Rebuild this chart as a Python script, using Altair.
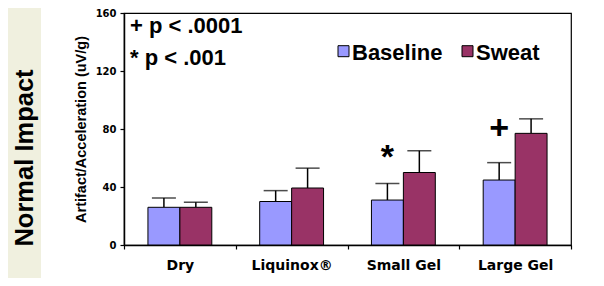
import altair as alt
import pandas as pd

categories = ["Dry", "Liquinox®", "Small Gel", "Large Gel"]
series = ["Baseline", "Sweat"]
baseline_vals = [26, 30, 31, 44.8]
baseline_err_top = [32.5, 37.5, 42.5, 56.8]
sweat_vals = [26, 39.3, 50, 77]
sweat_err_top = [29.5, 53, 65, 87]
y_ticks = [0, 40, 80, 120, 160]
colors = ["#9999FF", "#993366"]

sig_category = ["Small Gel", "Large Gel"]
sig_series = ["Baseline", "Baseline"]
sig_symbol = ["*", "+"]
sig_height = [60, 80]

rows = []
for i, c in enumerate(categories):
    rows.append({"cat": c, "series": series[0], "value": baseline_vals[i], "top": baseline_err_top[i]})
    rows.append({"cat": c, "series": series[1], "value": sweat_vals[i], "top": sweat_err_top[i]})
df = pd.DataFrame(rows)
sig = pd.DataFrame({"cat": sig_category, "series": sig_series, "sym": sig_symbol, "h": sig_height})

xenc = alt.X("cat:N", sort=categories, title=None,
             scale=alt.Scale(paddingInner=0, paddingOuter=0),
             axis=alt.Axis(labelAngle=0, labelAlign="center", tickBand="extent", domainColor="black",
                           domainWidth=1.5, tickColor="black", tickSize=4, tickWidth=1.2,
                           labelFont="DejaVu Sans", labelFontWeight="bold", labelFontSize=14,
                           labelColor="black", labelPadding=16, grid=False))
xoff = alt.XOffset("series:N", sort=series, scale=alt.Scale(paddingOuter=0.75, paddingInner=0))
yscale = alt.Scale(domain=[0, 160])
yaxis = alt.Axis(values=y_ticks, title="Artifact/Acceleration (uV/g)", grid=False,
                 domainColor="black", domainWidth=1.5, tickColor="black", tickSize=4, tickWidth=1.2,
                 labelFont="DejaVu Sans", labelFontWeight="bold", labelFontSize=10, labelColor="black",
                 labelPadding=4, titleFont="Liberation Sans", titleFontSize=14.5, titleFontWeight="bold",
                 titleColor="black", titlePadding=7)

base = alt.Chart(df)
bars = base.mark_bar(stroke="black", strokeWidth=1).encode(
    x=xenc, xOffset=xoff,
    y=alt.Y("value:Q", scale=yscale, axis=yaxis),
    color=alt.Color("series:N", sort=series, scale=alt.Scale(domain=series, range=colors), legend=None),
)
err = base.mark_rule(color="black", strokeWidth=1.5).encode(
    x=alt.X("cat:N", sort=categories), xOffset=xoff, y="value:Q", y2="top:Q")
caps = base.mark_tick(color="black", thickness=1.5, size=24, orient="horizontal").encode(
    x=alt.X("cat:N", sort=categories), xOffset=xoff, y="top:Q")
sigmarks = alt.Chart(sig).mark_text(font="Liberation Sans", fontWeight="bold", fontSize=34,
                                    baseline="middle", color="black").encode(
    x=alt.X("cat:N", sort=categories), xOffset=xoff, y="h:Q", text="sym:N")

one = alt.Data(values=[{}])
bg = alt.Chart(one).mark_rect(color="#F0F0DF").encode(
    x=alt.value(-116), x2=alt.value(-83), y=alt.value(-5), y2=alt.value(265))
side = alt.Chart(one).mark_text(text="Normal Impact", font="Liberation Sans", fontWeight="bold",
                                fontSize=25.5, angle=270, align="center", baseline="alphabetic",
                                color="black").encode(x=alt.value(-91), y=alt.value(145))
p1 = alt.Chart(one).mark_text(text="+ p < .0001", font="Liberation Sans", fontWeight="bold",
                              fontSize=22, align="left", baseline="alphabetic", color="black"
                              ).encode(x=alt.value(6), y=alt.value(20))
p2 = alt.Chart(one).mark_text(text="* p < .001", font="Liberation Sans", fontWeight="bold",
                              fontSize=22, align="left", baseline="alphabetic", color="black"
                              ).encode(x=alt.value(6), y=alt.value(52))
sq1 = alt.Chart(one).mark_square(size=121, color=colors[0], opacity=1, stroke="black", strokeWidth=1
                                 ).encode(x=alt.value(219.5), y=alt.value(38.2))
lt1 = alt.Chart(one).mark_text(text=series[0], font="Liberation Sans", fontWeight="bold", fontSize=22,
                               align="left", baseline="alphabetic", color="black"
                               ).encode(x=alt.value(228), y=alt.value(47))
sq2 = alt.Chart(one).mark_square(size=121, color=colors[1], opacity=1, stroke="black", strokeWidth=1
                                 ).encode(x=alt.value(343.5), y=alt.value(38.2))
lt2 = alt.Chart(one).mark_text(text=series[1], font="Liberation Sans", fontWeight="bold", fontSize=22,
                               align="left", baseline="alphabetic", color="black"
                               ).encode(x=alt.value(352), y=alt.value(47))

chart = alt.layer(bg, side, err, bars, caps, sigmarks, p1, p2, sq1, lt1, sq2, lt2).properties(
    width=447, height=232,
    autosize=alt.AutoSizeParams(type="none"),
    padding={"left": 116, "top": 5, "right": 25, "bottom": 33},
).configure_view(stroke="black", strokeWidth=1.2)

chart.save("out.html", embed_options={"renderer": "svg", "actions": False})
